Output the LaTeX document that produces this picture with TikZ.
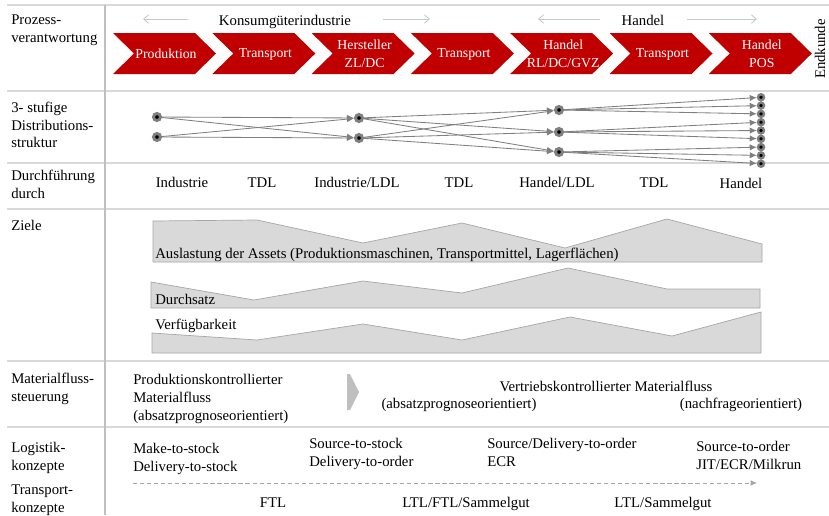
\documentclass[tikz,border=0pt]{standalone}
\usepackage{fontspec}
\setmainfont{Liberation Serif}
\usepackage{tikz}
\usetikzlibrary{arrows.meta, calc}
\definecolor{kred}{HTML}{C00000}
\definecolor{klinegray}{HTML}{D9D9D9}
\definecolor{kdivgray}{HTML}{BFBFBF}
\definecolor{kshape}{HTML}{D9D9D9}
\definecolor{kshapeline}{HTML}{A6A6A6}
\definecolor{knode}{HTML}{7F7F7F}
\definecolor{karrowlight}{HTML}{C8C8C8}
\definecolor{kdash}{HTML}{A6A6A6}
\tikzset{
  rowlabel/.style={anchor=north west, align=left, inner sep=0pt,
    font=\fontsize{10.5}{12.5}\selectfont},
  bodytext/.style={inner sep=0pt, font=\fontsize{10.5}{12.8}\selectfont},
  bodyblock/.style={bodytext, anchor=north west, align=left},
  chevtext/.style={inner sep=0pt, align=center, text=white,
    font=\fontsize{9.8}{12.8}\selectfont},
  distnode/.style={circle, draw=knode, fill=black, line width=2.1pt,
    minimum size=5pt, inner sep=0pt},
  endnode/.style={line width=1.7pt, minimum size=4.3pt},
  distarrow/.style={draw=knode, line width=0.6pt,
    -{Latex[length=5pt, width=4.5pt]}},
  headarrow/.style={draw=karrowlight, line width=0.6pt,
    -{Straight Barb[length=3.5pt, width=6pt]}},
  zielshape/.style={fill=kshape, draw=kshapeline, line width=0.5pt},
  tableline/.style={draw=klinegray, line width=1pt},
  tabledivider/.style={draw=kdivgray, line width=1.4pt},
}
% #1 left x, #2 node name, #3 label
\newcommand{\prozesschevron}[3]{%
  \fill[kred] (#1,33) -- ++(82,0) -- ++(21,20.5) -- ++(-21,20.5)
    -- ++(-82,0) -- ++(21,-20.5) -- cycle;
  \node[chevtext] (#2) at (#1+53,54) {#3};
}

\begin{document}
\begin{tikzpicture}[x=0.025cm, y=-0.025cm]

  \useasboundingbox (0,0) rectangle (829,515);

  %% Table grid
  \foreach \yy in {5,91,163,209,361,427}
    \draw[tableline] (7,\yy) -- (829,\yy);
  \draw[tabledivider] (105,5) -- (105,515);

  %% Row labels
  \node[rowlabel] (lprozess) at (11,15) {Prozess-\\verantwortung};
  \node[rowlabel] (lstufe) at (11,102) {3- stufige\\Distributions-\\struktur};
  \node[rowlabel] (ldurch) at (11,170) {Durchführung\\durch};
  \node[rowlabel] (lziele) at (11,220) {Ziele};
  \node[rowlabel] (lmat) at (11,373) {Materialfluss-\\steuerung};
  \node[rowlabel] (llog) at (11,442) {Logistik-\\konzepte};
  \node[rowlabel] (ltrans) at (11,485) {Transport-\\konzepte};

  %% Prozessverantwortung
  \node[bodytext, anchor=base] (kgi) at (285,25) {Konsumgüterindustrie};
  \node[bodytext, anchor=base] (hdl) at (643,25) {Handel};
  \coordinate (kgiA) at (188,19);
  \coordinate (kgiB) at (143,19);
  \coordinate (kgiC) at (383,19);
  \coordinate (kgiD) at (430,19);
  \coordinate (hdlA) at (600,19);
  \coordinate (hdlB) at (538,19);
  \coordinate (hdlC) at (687,19);
  \coordinate (hdlD) at (757,19);
  \draw[headarrow] (kgiA) -- (kgiB);
  \draw[headarrow] (kgiC) -- (kgiD);
  \draw[headarrow] (hdlA) -- (hdlB);
  \draw[headarrow] (hdlC) -- (hdlD);

  \prozesschevron{113}{cprod}{Produktion}
  \prozesschevron{212.3}{ctr1}{Transport}
  \prozesschevron{311.6}{cherst}{Hersteller\\ZL/DC}
  \prozesschevron{410.9}{ctr2}{Transport}
  \prozesschevron{510.2}{chdl}{Handel\\RL/DC/GVZ}
  \prozesschevron{609.5}{ctr3}{Transport}
  \prozesschevron{708.8}{cpos}{Handel\\POS}
  \node[bodytext, rotate=90] (endk) at (820,49) {Endkunde};

  %% Distributionsstruktur
  \node[distnode] (s1) at (157,117) {};
  \node[distnode] (s2) at (157,137) {};
  \node[distnode] (t1) at (359,118) {};
  \node[distnode] (t2) at (359,138) {};
  \node[distnode] (u1) at (559,110) {};
  \node[distnode] (u2) at (559,132) {};
  \node[distnode] (u3) at (559,152) {};
  \foreach \k in {1,...,9}
    \node[distnode, endnode] (v\k) at (761,{97.3+8.3*(\k-1)}) {};
  \foreach \a in {1,2}
    \foreach \b in {1,2}
      \draw[distarrow] (s\a) -- (t\b);
  \foreach \a in {1,2}
    \foreach \b in {1,2,3}
      \draw[distarrow] (t\a) -- (u\b);
  \foreach \a in {1,2,3}
    \foreach \b in {1,2,3} {
      \pgfmathtruncatemacro{\c}{3*(\a-1)+\b}
      \draw[distarrow] (u\a) -- (v\c);
    }

  %% Durchfuehrung
  \node[bodytext, anchor=base] (dind) at (182,187) {Industrie};
  \node[bodytext, anchor=base] (dtdl1) at (262,187) {TDL};
  \node[bodytext, anchor=base] (dldl) at (357,187) {Industrie/LDL};
  \node[bodytext, anchor=base] (dtdl2) at (459,187) {TDL};
  \node[bodytext, anchor=base] (dhldl) at (557,187) {Handel/LDL};
  \node[bodytext, anchor=base] (dtdl3) at (654,187) {TDL};
  \node[bodytext, anchor=base] (dhdl) at (741,188) {Handel};

  %% Ziele
  \filldraw[zielshape] (153,262) -- (153,221) -- (257,220) -- (363,243)
    -- (462,223) -- (565,248) -- (667,219) -- (762,244) -- (762,262) -- cycle;
  \node[bodytext, anchor=base west] (zausl) at (155,258)
    {Auslastung der Assets (Produktionsmaschinen, Transportmittel, Lagerflächen)};
  \filldraw[zielshape] (151,308) -- (151,282) -- (254,300) -- (363,281)
    -- (462,293) -- (568,268) -- (667,289) -- (760,289) -- (760,308) -- cycle;
  \node[bodytext, anchor=base west] (zdurch) at (155,304) {Durchsatz};
  \filldraw[zielshape] (152,353) -- (152,333) -- (257,340) -- (363,324)
    -- (462,340) -- (570,317) -- (672,336) -- (761,312) -- (761,353) -- cycle;
  \node[bodytext, anchor=base west] (zverf) at (155,329) {Verfügbarkeit};

  %% Materialflusssteuerung
  \node[bodyblock] (mprod) at (133,374)
    {Produktionskontrollierter\\Materialfluss\\(absatzprognoseorientiert)};
  \fill[kdivgray] (347,374) -- (350,374) -- (359,392) -- (350,410)
    -- (347,410) -- cycle;
  \node[bodytext, anchor=base] (mvert) at (606,391)
    {Vertriebskontrollierter Materialfluss};
  \node[bodytext, anchor=base] (mabs) at (459,408) {(absatzprognoseorientiert)};
  \node[bodytext, anchor=base] (mnach) at (741,408) {(nachfrageorientiert)};

  %% Logistikkonzepte
  \node[bodyblock] (kmake) at (133,443) {Make-to-stock\\Delivery-to-stock};
  \node[bodyblock] (ksrc) at (309,438) {Source-to-stock\\Delivery-to-order};
  \node[bodyblock] (kdel) at (487,438) {Source/Delivery-to-order\\ECR};
  \node[bodyblock] (kord) at (696,441) {Source-to-order\\JIT/ECR/Milkrun};

  %% Transportkonzepte
  \coordinate (tkS) at (133,483);
  \coordinate (tkE) at (757,483);
  \draw[kdash, line width=0.6pt, dash pattern=on 3pt off 2pt,
    -{Latex[length=4.5pt, width=4pt]}] (tkS) -- (tkE);
  \node[bodytext, anchor=base] (tftl) at (273,507) {FTL};
  \node[bodytext, anchor=base] (tltl) at (466,507) {LTL/FTL/Sammelgut};
  \node[bodytext, anchor=base] (tsam) at (663,507) {LTL/Sammelgut};

\end{tikzpicture}
\end{document}
